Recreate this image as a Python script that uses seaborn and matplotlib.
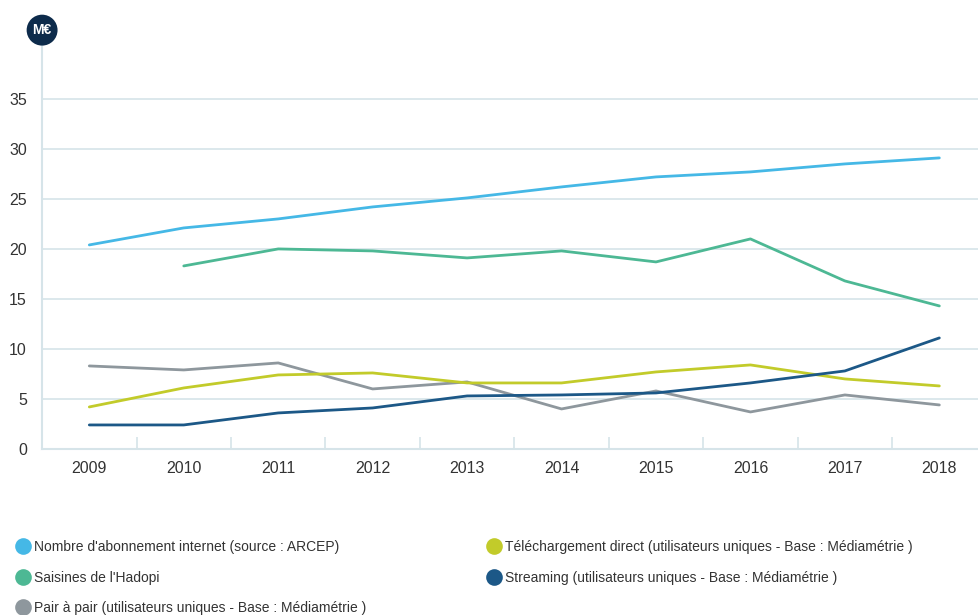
import matplotlib
matplotlib.use("Agg")
import matplotlib.pyplot as plt
from matplotlib.lines import Line2D
import numpy as np
import pandas as pd
import seaborn as sns

years = [2009, 2010, 2011, 2012, 2013, 2014, 2015, 2016, 2017, 2018]
internet = [20.4, 22.1, 23.0, 24.2, 25.1, 26.2, 27.2, 27.7, 28.5, 29.1]
hadopi = [np.nan, 18.3, 20.0, 19.8, 19.1, 19.8, 18.7, 21.0, 16.8, 14.3]
p2p = [8.3, 7.9, 8.6, 6.0, 6.7, 4.0, 5.8, 3.7, 5.4, 4.4]
ddl = [4.2, 6.1, 7.4, 7.6, 6.6, 6.6, 7.7, 8.4, 7.0, 6.3]
streaming = [2.4, 2.4, 3.6, 4.1, 5.3, 5.4, 5.6, 6.6, 7.8, 11.1]

names = [
    "Nombre d'abonnement internet (source : ARCEP)",
    "Saisines de l'Hadopi",
    "Pair à pair (utilisateurs uniques - Base : Médiamétrie )",
    "Téléchargement direct (utilisateurs uniques - Base : Médiamétrie )",
    "Streaming (utilisateurs uniques - Base : Médiamétrie )",
]
colors = ["#45b8e6", "#4db894", "#8e979d", "#c2cb2a", "#1c5887"]
series = [internet, hadopi, p2p, ddl, streaming]

rows = []
for n, vals in zip(names, series):
    for y, v in zip(years, vals):
        rows.append({"year": y, "value": v, "series": n})
df = pd.DataFrame(rows)

sns.set_theme(style="white")
plt.rcParams["font.family"] = ["Liberation Sans", "DejaVu Sans"]

fig = plt.figure(figsize=(9.79, 6.15), dpi=100)
ax = fig.add_axes([0.043, 0.27, 0.957, 0.657])

sns.lineplot(data=df, x="year", y="value", hue="series", palette=dict(zip(names, colors)),
             linewidth=2.0, ax=ax, legend=False)

ax.set_xlim(2008.57, 2018.42)
ax.set_ylim(0, 40.4)
ax.set_yticks([0, 5, 10, 15, 20, 25, 30, 35])
ax.set_xticks(years)
ax.set_xticks([y + 0.5 for y in years[:-1]] + [2008.5], minor=True)
ax.set_xlabel("")
ax.set_ylabel("")
grid_c = "#d6e4e9"
for v in [5, 10, 15, 20, 25, 30, 35]:
    ax.axhline(v, color=grid_c, lw=1.2, zorder=0)
for s in ["top", "right"]:
    ax.spines[s].set_visible(False)
ax.spines["left"].set_color(grid_c)
ax.spines["left"].set_linewidth(1.5)
ax.spines["bottom"].set_color(grid_c)
ax.spines["bottom"].set_linewidth(1.5)
ax.tick_params(axis="x", which="major", length=0, pad=9, labelsize=11.5, labelcolor="#333333")
ax.tick_params(axis="x", which="minor", direction="in", length=9, color=grid_c, width=1.2, bottom=True)
ax.tick_params(axis="y", length=0, pad=11, labelsize=11.5, labelcolor="#333333")

fig.text(0.043, 0.951, "M€", ha="center", va="center", color="white", fontsize=10, fontweight="bold",
         bbox=dict(boxstyle="circle,pad=0.42", fc="#0d2b4b", ec="none"))

handles = [Line2D([], [], marker="o", ls="none", markersize=12, markerfacecolor=c, markeredgecolor="none")
           for c in colors]
leg_kw = dict(loc="upper left", frameon=False, fontsize=10, handletextpad=0.3, labelspacing=1.2,
              handlelength=1.0, borderaxespad=0, borderpad=0, labelcolor="#333333")
leg1 = fig.legend(handles[:3], names[:3], bbox_to_anchor=(0.016, 0.122), **leg_kw)
leg2 = fig.legend(handles[3:], names[3:], bbox_to_anchor=(0.497, 0.122), **leg_kw)

fig.savefig("out.png", dpi=100, facecolor="white")
